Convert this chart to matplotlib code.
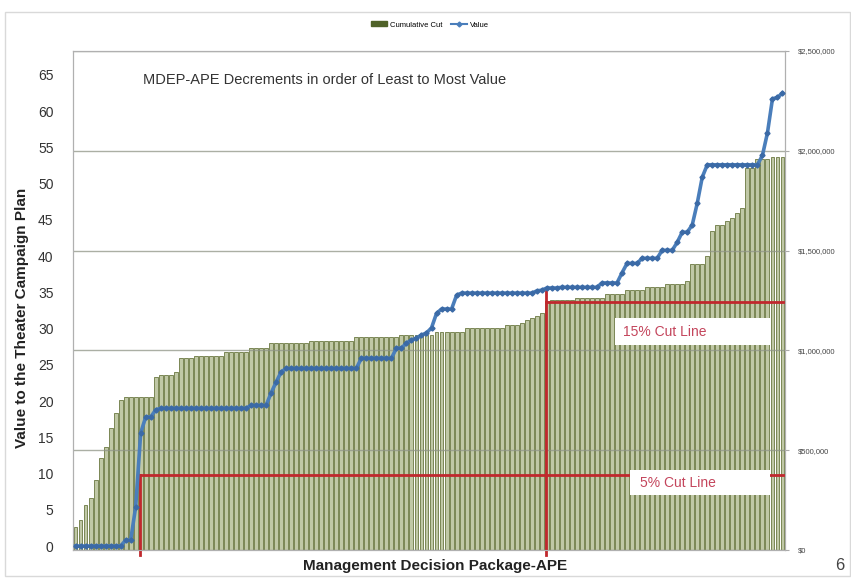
import matplotlib
matplotlib.use('Agg')
import matplotlib.pyplot as plt
from matplotlib.patches import Rectangle, Patch
from matplotlib.lines import Line2D
import numpy as np

plt.rcParams['font.family'] = ['Liberation Sans', 'DejaVu Sans']

# Cumulative cut ($) per MDEP-APE, ordered least to most value
cumulative_cut = [
    115000, 150000, 225000, 260000, 350000, 460000, 515000, 610000, 685000, 750000,
    765000, 765000, 765000, 765000, 765000, 765000,
    865000, 875000, 875000, 875000, 890000,
    960000, 960000, 960000,
    970000, 970000, 970000, 970000, 970000, 970000,
    990000, 990000, 990000, 990000, 990000,
    1010000, 1010000, 1010000, 1010000,
    1035000, 1035000, 1035000, 1035000, 1035000, 1035000, 1035000, 1035000,
    1045000, 1045000, 1045000, 1045000, 1045000, 1045000, 1045000, 1045000, 1045000,
    1065000, 1065000, 1065000, 1065000, 1065000, 1065000, 1065000, 1065000, 1065000,
    1075000, 1075000, 1075000, 1075000, 1075000, 1075000, 1075000,
    1090000, 1090000, 1090000, 1090000, 1090000, 1090000,
    1110000, 1110000, 1110000, 1110000, 1110000, 1110000, 1110000, 1110000,
    1125000, 1125000, 1125000,
    1135000, 1150000, 1160000, 1170000, 1185000,
    1250000,
    1255000, 1255000, 1255000, 1255000, 1255000,
    1265000, 1265000, 1265000, 1265000, 1265000, 1265000,
    1285000, 1285000, 1285000, 1285000,
    1305000, 1305000, 1305000, 1305000,
    1320000, 1320000, 1320000, 1320000,
    1335000, 1335000, 1335000, 1335000,
    1350000,
    1435000, 1435000, 1435000,
    1475000, 1600000, 1630000, 1630000,
    1650000, 1665000, 1690000, 1715000,
    1915000, 1915000,
    1960000, 1960000, 1960000,
    1970000, 1970000, 1970000,
]

# Value to the Theater Campaign Plan per MDEP-APE
value = [
    0, 0, 0, 0, 0, 0, 0, 0, 0, 0,
    0.8, 0.8, 5.4, 15.6, 17.8, 17.8, 18.8,
    19.0, 19.0, 19.0, 19.0, 19.0, 19.0, 19.0, 19.0, 19.0,
    19.0, 19.0, 19.0, 19.0, 19.0, 19.0, 19.0, 19.0, 19.0,
    19.4, 19.4, 19.4, 19.4,
    21.1, 22.6, 24.0,
    24.5, 24.5, 24.5, 24.5, 24.5, 24.5, 24.5, 24.5, 24.5, 24.5, 24.5, 24.5, 24.5, 24.5, 24.5,
    25.9, 25.9, 25.9, 25.9, 25.9, 25.9, 25.9,
    27.3, 27.3, 28.0, 28.4, 28.7, 29.1, 29.4, 30.1, 32.1,
    32.7, 32.7, 32.7, 34.6,
    34.9, 34.9, 34.9, 34.9, 34.9, 34.9, 34.9, 34.9, 34.9, 34.9, 34.9, 34.9, 34.9, 34.9, 34.9,
    35.2, 35.3, 35.6, 35.6, 35.6,
    35.7, 35.7, 35.7, 35.7, 35.7, 35.7, 35.7, 35.7,
    36.3, 36.3, 36.3, 36.3,
    37.7, 39.0, 39.0, 39.0,
    39.7, 39.7, 39.7, 39.7,
    40.8, 40.8, 40.8,
    41.9, 43.3, 43.3,
    44.3, 47.3, 50.9,
    52.6, 52.6, 52.6, 52.6, 52.6, 52.6, 52.6, 52.6, 52.6, 52.6, 52.6,
    53.9, 57.0, 61.7, 61.9, 62.5,
]

left_ticks = [0, 5, 10, 15, 20, 25, 30, 35, 40, 45, 50, 55, 60, 65]
right_ticks = [0, 500000, 1000000, 1500000, 2000000, 2500000]

cut5_level = 375000
cut15_level = 1240000
cut5_pos = 12.85
cut15_pos = 93.8

fig = plt.figure(figsize=(8.51, 5.78), dpi=100)
fig.patch.set_facecolor('white')

# outer chart frame
fig.patches.append(Rectangle((5 / 851, 2 / 578), 845 / 851, 564 / 578, fill=False,
                             edgecolor='#d9d9d9', lw=1, transform=fig.transFigure, zorder=0))

ax = fig.add_axes([73 / 851, 28 / 578, 712 / 851, 499 / 578])
ax2 = ax.twinx()

n = len(cumulative_cut)
x = np.arange(n)
ax.bar(x, cumulative_cut, width=0.78, color='#c0c8a6', edgecolor='#6b7841',
       linewidth=0.6, zorder=2)
ax.set_xlim(-0.5, n - 0.5)
ax.set_ylim(0, 2500000)
ax.set_yticks(right_ticks)
ax.set_yticklabels([f'${v:,.0f}' for v in right_ticks], fontsize=5.5, color='#444444')
ax.yaxis.tick_right()
ax.yaxis.set_label_position('right')
ax.tick_params(axis='y', length=3, color='#aaaaaa', pad=6)
ax.set_xticks([])
ax.set_axisbelow(False)
ax.grid(axis='y', color='#8f9486', lw=1, alpha=0.75, zorder=2.5)
for s in ['left', 'right', 'top', 'bottom']:
    ax.spines[s].set_color('#b0b0b0')

# cut lines
red = '#c0282d'
ax.plot([cut5_pos, n - 0.5], [cut5_level, cut5_level], color=red, lw=2, zorder=4)
ax.plot([cut5_pos, cut5_pos], [-25000, cut5_level], color=red, lw=2, zorder=4, clip_on=False)
ax.plot([cut15_pos, n - 0.5], [cut15_level, cut15_level], color=red, lw=2, zorder=4)
ax.plot([cut15_pos, cut15_pos], [-25000, 1300000], color=red, lw=2, zorder=4, clip_on=False)

ax.add_patch(Rectangle((107.6, 1025000), 30.9, 135000, facecolor='white', edgecolor='none', zorder=5))
ax.text(109.2, 1092500, '15% Cut Line', color='#c4455c', fontsize=10, va='center', ha='left', zorder=6)
ax.add_patch(Rectangle((110.6, 275000), 27.9, 125000, facecolor='white', edgecolor='none', zorder=5))
ax.text(112.6, 337500, '5% Cut Line', color='#c4455c', fontsize=10, va='center', ha='left', zorder=6)

ax2.plot(x, value, color='#4a7ebb', lw=2.6, marker='D', ms=2.6, mfc='#3b6aa6',
         mec='#3b6aa6', zorder=3)
ax2.set_ylim(-0.55, 68.3)
ax2.set_yticks(left_ticks)
ax2.set_yticklabels([str(t) for t in left_ticks], fontsize=10, color='#333333')
ax2.yaxis.tick_left()
ax2.tick_params(axis='y', length=0, pad=14)
for s in ['left', 'right', 'top', 'bottom']:
    ax2.spines[s].set_color('#b0b0b0')

fig.text(143 / 851, 1 - 80 / 578, 'MDEP-APE Decrements in order of Least to Most Value',
         fontsize=10.5, color='#333333', va='center', ha='left')
fig.text(22 / 851, 1 - 318 / 578, 'Value to the Theater Campaign Plan', rotation=90,
         fontsize=11, fontweight='bold', color='#222222', ha='center', va='center')
fig.text(435 / 851, 1 - 566 / 578, 'Management Decision Package-APE', fontsize=11,
         fontweight='bold', color='#222222', ha='center', va='center')
fig.text(840 / 851, 1 - 566 / 578, '6', fontsize=12, color='#444444', ha='center', va='center')

handles = [Patch(facecolor='#4f6228', edgecolor='#4f6228'),
           Line2D([0], [0], color='#4a7ebb', lw=1.5, marker='D', ms=2.5)]
fig.legend(handles, ['Cumulative Cut', 'Value'], loc='center', ncol=2,
           bbox_to_anchor=(430 / 851, 1 - 25 / 578), frameon=False, fontsize=5.5,
           handlelength=2, handleheight=0.6, columnspacing=1.2, handletextpad=0.4)

fig.savefig('out.png', dpi=100, facecolor='white')
